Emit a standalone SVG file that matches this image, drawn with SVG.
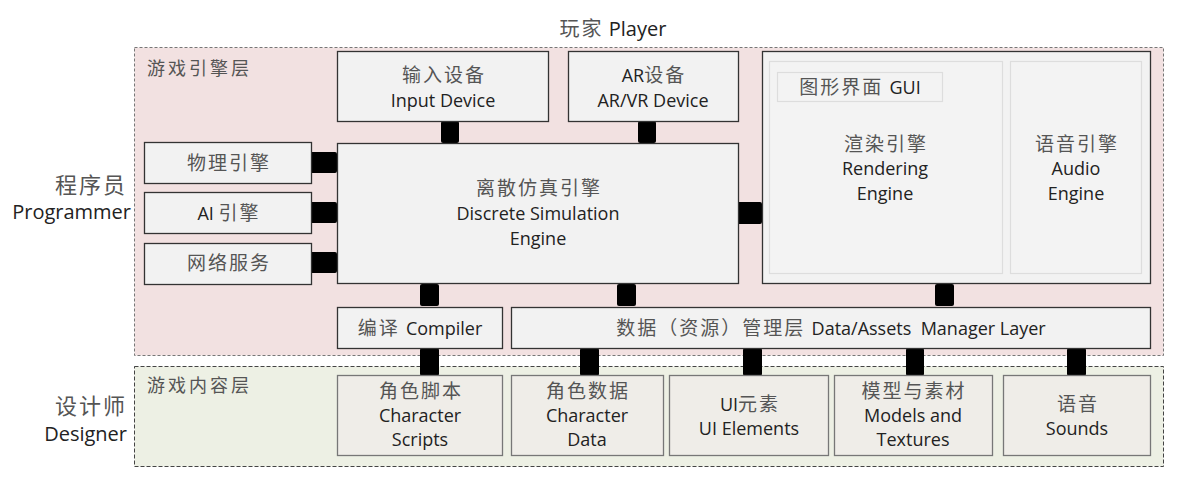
<svg xmlns="http://www.w3.org/2000/svg" width="1188" height="480" viewBox="0 0 1188 480">
<style>
.cn{font-family:"Noto Sans CJK SC",sans-serif;font-size:19px;letter-spacing:2px;fill:#555;text-anchor:middle}
.en{font-family:"Open Sans","Liberation Sans",sans-serif;font-size:18px;fill:#222;text-anchor:middle}
.mx{font-family:"Open Sans","Noto Sans CJK SC",sans-serif;font-size:18px;fill:#222;text-anchor:middle;white-space:pre}
.c{font-family:"Noto Sans CJK SC",sans-serif;font-size:19px;letter-spacing:2px;fill:#555}
.box{fill:#f2f2f2;stroke:#333;stroke-width:1.3}
.cbox{fill:#efede8;stroke:#777;stroke-width:1.3}
.inner{fill:#f3f3f3;stroke:#ddd;stroke-width:1.2}
.con{fill:#000}
.lbl{font-family:"Noto Sans CJK SC",sans-serif;font-size:18px;letter-spacing:3px;fill:#555}
</style>
<rect width="1188" height="480" fill="#fff"/>
<g id="engine-layer">
<rect x="134.5" y="47.5" width="1029" height="308" fill="#f2e1e1" stroke="#777" stroke-width="1" stroke-dasharray="3,2"/>
<text class="lbl" x="147" y="75">游戏引擎层</text>
</g>
<g id="content-layer">
<rect x="134.5" y="366.5" width="1029" height="100" fill="#edf0e4" stroke="#444" stroke-width="1" stroke-dasharray="4,2"/>
<text class="lbl" x="147" y="392">游戏内容层</text>
</g>
<g id="player">
<text class="mx" x="613" y="36" style="font-size:20px"><tspan class="c" style="font-size:20px">玩家</tspan> Player</text>
</g>
<g id="programmer">
<text class="cn" x="127" y="193" style="font-size:22px;text-anchor:end">程序员</text>
<text class="en" x="131" y="219" style="font-size:20px;text-anchor:end">Programmer</text>
</g>
<g id="designer">
<text class="cn" x="127" y="414" style="font-size:22px;text-anchor:end">设计师</text>
<text class="en" x="127" y="441" style="font-size:20px;text-anchor:end">Designer</text>
</g>
<g id="connectors">
<rect class="con" x="441" y="121" width="18" height="22" rx="2"/>
<rect class="con" x="638" y="121" width="18" height="22" rx="2"/>
<rect class="con" x="310" y="152" width="27" height="21" rx="2"/>
<rect class="con" x="310" y="202" width="27" height="21" rx="2"/>
<rect class="con" x="310" y="252" width="27" height="21" rx="2"/>
<rect class="con" x="737" y="202" width="25" height="22" rx="2"/>
<rect class="con" x="420" y="284" width="19" height="22" rx="2"/>
<rect class="con" x="617" y="284" width="19" height="22" rx="2"/>
<rect class="con" x="935" y="284" width="19" height="22" rx="2"/>
<rect class="con" x="420" y="348" width="19" height="28" rx="2"/>
<rect class="con" x="580" y="348" width="19" height="28" rx="2"/>
<rect class="con" x="743" y="348" width="19" height="28" rx="2"/>
<rect class="con" x="906" y="348" width="18" height="28" rx="2"/>
<rect class="con" x="1067" y="348" width="19" height="28" rx="2"/>
</g>
<g id="input-device">
<rect class="box" x="337.5" y="51.5" width="211" height="70"/>
<text class="cn" x="444" y="82">输入设备</text>
<text class="en" x="443" y="107">Input Device</text>
</g>
<g id="ar-device">
<rect class="box" x="568.5" y="51.5" width="170" height="70"/>
<text class="mx" x="654" y="82">AR<tspan class="c">设备</tspan></text>
<text class="en" x="653" y="107">AR/VR Device</text>
</g>
<g id="physics">
<rect class="box" x="144.5" y="142.5" width="167" height="41"/>
<text class="cn" x="229" y="170">物理引擎</text>
</g>
<g id="ai">
<rect class="box" x="144.5" y="192.5" width="167" height="41"/>
<text class="mx" x="229" y="220">AI <tspan class="c">引擎</tspan></text>
</g>
<g id="network">
<rect class="box" x="144.5" y="243.5" width="167" height="41"/>
<text class="cn" x="229" y="270">网络服务</text>
</g>
<g id="dse">
<rect class="box" x="337.5" y="143.5" width="401" height="140"/>
<text class="cn" x="539" y="195">离散仿真引擎</text>
<text class="en" x="538" y="220">Discrete Simulation</text>
<text class="en" x="538" y="245">Engine</text>
</g>
<g id="render-audio">
<rect class="box" x="762.5" y="51.5" width="388" height="232"/>
<g id="rendering">
<rect class="inner" x="769.5" y="61.5" width="233" height="212"/>
<text class="cn" x="886" y="151">渲染引擎</text>
<text class="en" x="885" y="175">Rendering</text>
<text class="en" x="885" y="200">Engine</text>
</g>
<g id="gui">
<rect class="inner" x="777.5" y="72.5" width="165" height="29"/>
<text class="mx" x="860" y="94"><tspan class="c">图形界面 </tspan>GUI</text>
</g>
<g id="audio">
<rect class="inner" x="1010.5" y="61.5" width="131" height="212"/>
<text class="cn" x="1077" y="151">语音引擎</text>
<text class="en" x="1076" y="175">Audio</text>
<text class="en" x="1076" y="200">Engine</text>
</g>
</g>
<g id="compiler">
<rect class="box" x="337.5" y="307.5" width="165" height="41"/>
<text class="mx" x="420" y="335"><tspan class="c">编译 </tspan>Compiler</text>
</g>
<g id="data-manager">
<rect class="box" x="511.5" y="307.5" width="639" height="41"/>
<text class="mx" x="831" y="335"><tspan class="c">数据（资源）管理层 </tspan>Data/Assets  Manager Layer</text>
</g>
<g id="char-scripts">
<rect class="cbox" x="337.5" y="375.5" width="165" height="80"/>
<text class="cn" x="421" y="398">角色脚本</text>
<text class="en" x="420" y="422">Character</text>
<text class="en" x="420" y="446">Scripts</text>
</g>
<g id="char-data">
<rect class="cbox" x="511.5" y="375.5" width="152" height="80"/>
<text class="cn" x="588" y="398">角色数据</text>
<text class="en" x="587" y="422">Character</text>
<text class="en" x="587" y="446">Data</text>
</g>
<g id="ui-elements">
<rect class="cbox" x="669.5" y="375.5" width="159" height="80"/>
<text class="mx" x="750" y="411">UI<tspan class="c">元素</tspan></text>
<text class="en" x="749" y="435">UI Elements</text>
</g>
<g id="models">
<rect class="cbox" x="834.5" y="375.5" width="158" height="80"/>
<text class="cn" x="914" y="398">模型与素材</text>
<text class="en" x="913" y="422">Models and</text>
<text class="en" x="913" y="446">Textures</text>
</g>
<g id="sounds">
<rect class="cbox" x="1003.5" y="375.5" width="147" height="80"/>
<text class="cn" x="1078" y="411">语音</text>
<text class="en" x="1077" y="435">Sounds</text>
</g>
</svg>
